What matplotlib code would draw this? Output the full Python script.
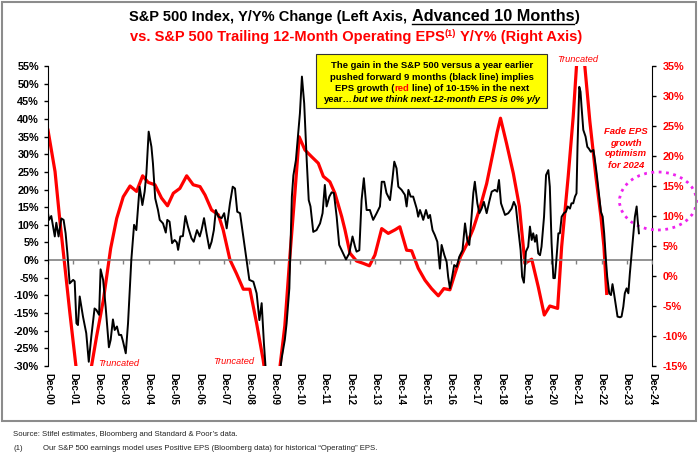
import matplotlib
matplotlib.use('Agg')
import matplotlib.pyplot as plt
from matplotlib.patches import Rectangle, Ellipse
from matplotlib.lines import Line2D
from matplotlib.transforms import IdentityTransform

plt.rcParams['font.family'] = ['Liberation Sans', 'DejaVu Sans']

W, H = 700, 458

# S&P 500 Y/Y % change, advanced 10 months (left axis)
black_x = [2000.92, 2000.96, 2001.05, 2001.19, 2001.25, 2001.34, 2001.45, 2001.54, 2001.62, 2001.69,
           2001.78, 2001.92, 2001.98, 2002.05, 2002.11, 2002.18, 2002.31, 2002.44, 2002.54, 2002.64,
           2002.77, 2002.84, 2002.95, 2003.01, 2003.11, 2003.21, 2003.34, 2003.41, 2003.50, 2003.57,
           2003.66, 2003.74, 2003.83, 2003.90, 2004.01, 2004.10, 2004.23, 2004.34, 2004.43, 2004.56,
           2004.67, 2004.76, 2004.83, 2004.92, 2005.03, 2005.09, 2005.18, 2005.29, 2005.36, 2005.49,
           2005.60, 2005.66, 2005.75, 2005.85, 2005.95, 2006.04, 2006.09, 2006.18, 2006.28, 2006.38,
           2006.48, 2006.62, 2006.71, 2006.84, 2006.95, 2007.02, 2007.12, 2007.22, 2007.33, 2007.42,
           2007.51, 2007.59, 2007.69, 2007.82, 2007.92, 2008.02, 2008.15, 2008.26, 2008.35, 2008.44,
           2008.55, 2008.68, 2008.81, 2008.92, 2009.08, 2009.21, 2009.32, 2009.41, 2009.50, 2009.61,
           2009.87, 2010.07, 2010.20, 2010.33, 2010.40, 2010.51, 2010.61, 2010.67, 2010.77, 2010.93,
           2011.01, 2011.10, 2011.20, 2011.28, 2011.35, 2011.46, 2011.59, 2011.73, 2011.83, 2011.92,
           2011.99, 2012.10, 2012.19, 2012.28, 2012.39, 2012.49, 2012.65, 2012.76, 2012.89, 2013.02,
           2013.12, 2013.18, 2013.29, 2013.38, 2013.47, 2013.58, 2013.71, 2013.84, 2013.98, 2014.11,
           2014.18, 2014.28, 2014.37, 2014.51, 2014.61, 2014.68, 2014.77, 2014.84, 2014.97, 2015.10,
           2015.17, 2015.24, 2015.33, 2015.43, 2015.57, 2015.63, 2015.70, 2015.77, 2015.83, 2015.94,
           2016.03, 2016.10, 2016.20, 2016.29, 2016.39, 2016.49, 2016.56, 2016.67, 2016.76, 2016.82,
           2016.89, 2016.98, 2017.06, 2017.16, 2017.26, 2017.39, 2017.49, 2017.58, 2017.66, 2017.75,
           2017.82, 2017.88, 2017.98, 2018.06, 2018.15, 2018.24, 2018.35, 2018.45, 2018.55, 2018.68,
           2018.77, 2018.84, 2018.92, 2019.08, 2019.21, 2019.34, 2019.43, 2019.51, 2019.61, 2019.70,
           2019.76, 2019.83, 2019.91, 2020.00, 2020.07, 2020.14, 2020.20, 2020.27, 2020.33, 2020.40,
           2020.47, 2020.53, 2020.63, 2020.71, 2020.80, 2020.86, 2020.93, 2021.00, 2021.06, 2021.10,
           2021.20, 2021.26, 2021.33, 2021.42, 2021.50, 2021.57, 2021.66, 2021.72, 2021.79, 2021.86,
           2021.92, 2021.96, 2022.03, 2022.08, 2022.12, 2022.19, 2022.28, 2022.35, 2022.41, 2022.49,
           2022.59, 2022.65, 2022.72, 2022.81, 2022.89, 2022.96, 2023.02, 2023.09, 2023.14, 2023.22,
           2023.29, 2023.35, 2023.41, 2023.49, 2023.55, 2023.65, 2023.71, 2023.78, 2023.84, 2023.91,
           2023.98, 2024.04, 2024.11, 2024.18, 2024.24, 2024.31, 2024.35, 2024.40]
black_y = [13.3, 11.4, 12.5, 6.7, 10.6, 6.7, 11.8, 11.4, 7.6, 2.0,
           -6.6, -5.6, -6.0, -17.9, -18.4, -10.3, -16.0, -20.7, -28.8, -21.7,
           -13.7, -14.1, -15.5, -2.6, -5.6, -13.2, -24.7, -22.6, -16.8, -19.8,
           -18.8, -21.2, -21.2, -23.0, -26.4, -17.9, 0.0, 10.0, 8.5, 20.8,
           15.6, 19.4, 24.6, 36.4, 32.1, 27.4, 17.5, 14.2, 11.4, 10.4,
           7.8, 11.4, 10.9, 4.8, 5.7, 5.0, 2.9, 6.7, 6.8, 12.5,
           9.5, 6.2, 5.2, 8.5, 6.7, 8.5, 11.9, 7.6, 3.3, 5.2,
           8.5, 14.2, 12.3, 11.9, 13.3, 9.0, 16.1, 20.8, 20.3, 13.7,
           13.3, 6.7, 0.0, -5.6, -6.1, -9.4, -17.0, -12.2, -23.6, -35.0,
           -42.0, -36.0, -28.0, -22.6, -18.0, -8.0, 18.0, 24.0, 28.3, 41.6,
           52.0, 44.4, 28.3, 17.0, 15.2, 8.0, 8.5, 10.4, 13.3, 21.3,
           15.2, 18.0, 19.2, 19.0, 12.3, 4.3, 1.9, 0.2, 1.9, 6.7,
           3.8, 2.4, 2.8, 17.0, 23.2, 14.2, 14.2, 11.4, 13.3, 15.2,
           22.2, 22.2, 19.0, 17.0, 23.2, 27.9, 26.0, 20.8, 19.9, 18.5,
           15.2, 19.9, 18.0, 18.0, 14.6, 12.3, 14.2, 12.8, 11.4, 14.2,
           11.9, 12.8, 8.5, 7.1, 5.2, -2.4, 4.3, 1.4, -0.5, -4.7,
           -8.0, -4.7, -1.4, -1.9, 0.9, 2.8, 10.4, 5.7, 4.3, 12.3,
           19.0, 22.2, 16.1, 13.3, 14.6, 16.5, 13.3, 16.5, 19.4, 19.9,
           19.4, 22.7, 16.1, 12.8, 13.3, 14.6, 16.5, 15.2, 8.5, 2.8,
           -4.7, -6.4, 2.4, 3.8, 9.5, 5.7, 7.6, 5.2, 7.1, 1.9,
           1.4, 3.8, 12.3, 24.1, 25.5, 20.8, 4.8, -5.1, -5.1, -1.8,
           7.6, 7.6, 12.3, 13.3, 13.7, 15.2, 14.6, 16.1, 16.1, 18.0,
           18.9, 32.1, 49.1, 47.7, 43.5, 36.9, 35.0, 32.1, 31.6, 30.7,
           31.2, 28.4, 24.6, 18.9, 13.7, 12.3, 7.6, 0.0, -4.7, -9.4,
           -9.9, -6.8, -9.4, -13.2, -16.0, -16.2, -16.0, -13.2, -9.4, -8.0,
           -9.4, -3.8, 1.9, 7.6, 12.3, 15.2, 11.4, 7.6]

# trailing 12-month operating EPS Y/Y % (right axis)
red_x = [2000.92, 2001.20, 2001.39, 2001.59, 2001.79, 2002.03, 2002.26, 2002.45, 2002.65, 2002.85,
         2003.12, 2003.41, 2003.65, 2003.91, 2004.18, 2004.44, 2004.68, 2004.90, 2005.17, 2005.43,
         2005.67, 2005.90, 2006.16, 2006.43, 2006.69, 2006.96, 2007.16, 2007.42, 2007.69, 2007.88,
         2008.15, 2008.41, 2008.68, 2008.94, 2009.21, 2009.47, 2009.74, 2009.94, 2010.14, 2010.33,
         2010.53, 2010.73, 2010.90, 2011.13, 2011.39, 2011.66, 2011.86, 2012.12, 2012.32, 2012.59,
         2012.72, 2012.92, 2013.18, 2013.45, 2013.69, 2013.91, 2014.18, 2014.44, 2014.71, 2014.90,
         2015.17, 2015.37, 2015.63, 2015.90, 2016.16, 2016.43, 2016.65, 2016.89, 2017.09, 2017.31,
         2017.55, 2017.82, 2018.08, 2018.35, 2018.61, 2018.77, 2018.90, 2019.14, 2019.41, 2019.65,
         2019.87, 2020.14, 2020.40, 2020.64, 2020.86, 2021.17, 2021.33, 2021.59, 2021.79, 2021.92,
         2022.06, 2022.19, 2022.25, 2022.45, 2022.69, 2022.89, 2023.01, 2023.12]
red_y = [24.3, 17.4, 9.3, 1.6, -6.2, -15.0, -25.0, -28.0, -15.0, -10.1,
         -4.0, 4.6, 9.6, 13.2, 15.0, 14.1, 16.7, 15.6, 15.2, 13.0,
         11.7, 13.8, 14.6, 16.7, 15.2, 14.9, 13.5, 11.0, 10.2, 7.7,
         2.7, 0.4, -2.2, -2.2, -7.9, -14.0, -22.0, -24.0, -15.0, -8.3,
         3.2, 13.8, 23.2, 21.0, 19.9, 18.8, 16.6, 15.7, 13.8, 9.9,
         7.7, 3.8, 2.5, 2.1, 1.7, 3.5, 7.9, 7.1, 7.7, 8.2,
         4.3, 4.2, 1.3, -0.7, -2.1, -3.3, -2.1, -2.3, 0.4, 3.2,
         5.2, 7.9, 11.3, 15.4, 20.7, 24.0, 26.3, 22.1, 17.1, 11.6,
         2.1, 2.8, -1.8, -6.5, -5.0, -5.4, 4.9, 16.6, 26.6, 35.0,
         40.0, 38.0, 35.0, 25.8, 16.6, 9.9, 4.9, -2.9]

year_ticks = [2000.92 + k for k in range(25)]
year_labels = ['Dec-%02d' % k for k in range(25)]
left_ticks = list(range(-30, 56, 5))
right_ticks = list(range(-15, 36, 5))

fig = plt.figure(figsize=(7, 4.58), dpi=100)
ax = fig.add_axes([48 / W, 1 - 366 / H, 604 / W, 300 / H])
ax2 = ax.twinx()

ax2.plot(red_x, red_y, color='#ff0000', lw=2.3, solid_joinstyle='round')
ax.axhline(0, color='#808080', lw=1.2, zorder=1)
ax.plot(year_ticks, [0] * len(year_ticks), ls='none', marker=3, ms=3, color='#808080', zorder=1)
ax.plot(black_x, black_y, color='black', lw=1.4, zorder=3)

ax.set_zorder(ax2.get_zorder() + 1)
ax.patch.set_visible(False)

ax.set_xlim(year_ticks[0], year_ticks[-1])
ax.set_ylim(-30, 55)
ax2.set_ylim(-15, 35)

ax.set_yticks(left_ticks, [f'{v}%' for v in left_ticks], fontsize=7.8, fontweight='bold')
ax2.set_yticks(right_ticks, [f'{v}%' for v in right_ticks], fontsize=7.8, fontweight='bold', color='#ff0000')
ax.set_xticks(year_ticks, year_labels, rotation=270, fontsize=7, fontweight='bold')
ax.tick_params(axis='x', length=0, pad=5)
ax.tick_params(axis='y', direction='out', length=3, width=1, pad=3.5)
ax2.tick_params(axis='y', direction='out', length=3, width=1, pad=4.5)

for a in (ax, ax2):
    a.spines['top'].set_visible(False)
    a.spines['bottom'].set_visible(False)
ax.spines['right'].set_visible(False)
ax2.spines['left'].set_visible(False)


def px(x, y):
    return (x, H - y)


def rich_line(y, cx, parts):
    # parts: (text, props, space_before, rise)
    arts = []
    for s, kw, sp, rise in parts:
        t = fig.text(0, 0, s, transform=IdentityTransform(), ha='left', va='baseline', **kw)
        arts.append((t, sp, rise))
    r = fig.canvas.get_renderer()
    widths = [t.get_window_extent(r).width for t, _, _ in arts]
    gaps = [t.get_fontsize() * 100 / 72 * 0.278 if sp else 0 for t, sp, _ in arts]
    x = cx - (sum(widths) + sum(gaps)) / 2
    for (t, sp, rise), w, g in zip(arts, widths, gaps):
        x += g
        t.set_position((x, H - y + rise))
        x += w
    return [t for t, _, _ in arts]


# title
B = dict(fontweight='bold', fontsize=10.5, color='black')
R = dict(fontweight='bold', fontsize=10.5, color='#ff0000')
t1 = rich_line(21, 354, [("S&P 500 Index, Y/Y% Change (Left Axis,", B, False, 0),
                         ("Advanced 10 Months", dict(B, fontsize=11.7), True, 0),
                         (")", B, False, 0)])
rich_line(40.5, 356, [("vs. S&P 500 Trailing 12-Month Operating EPS", R, False, 0),
                      ("(1)", dict(R, fontsize=6.5), False, 5),
                      ("Y/Y% (Right Axis)", R, True, 0)])
r = fig.canvas.get_renderer()
bb = t1[1].get_window_extent(r)
fig.add_artist(Line2D([bb.x0, bb.x1], [H - 23.5, H - 23.5], transform=IdentityTransform(),
                      color='black', lw=1))

# yellow call-out box
fig.add_artist(Rectangle((316, H - 108), 231, 54, transform=IdentityTransform(),
                         facecolor='#ffff00', edgecolor='#333333', lw=0.8))
YB = dict(fontweight='bold', fontsize=6.8, color='black')
YI = dict(YB, fontstyle='italic')
cx = 432
rich_line(68.5, cx, [("The gain in the S&P 500 versus a year earlier", YB, False, 0)])
rich_line(79.6, cx, [("pushed forward 9 months (black line) implies", YB, False, 0)])
rich_line(90.7, cx, [("EPS growth (", YB, False, 0), ("red", dict(YB, color='#ff0000'), False, 0),
                     ("line) of 10-15% in the next", YB, True, 0)])
rich_line(101.8, cx, [("year\u2026", YB, False, 0), ("but we think next-12-month EPS is 0% y/y", YI, False, 0)])

# truncated notes
TR = dict(fontsize=6.7, fontstyle='italic', color='#ff0000', ha='center', va='center',
          transform=IdentityTransform())
for x, y in [(119, 363), (234, 362), (578, 60)]:
    fig.text(*px(x, y), "Truncated", **TR)

# fade note and dotted ellipse
for i, s in enumerate(["Fade EPS", "growth", "optimism", "for 2024"]):
    fig.text(*px(626, 132 + 11 * i), s, fontsize=6.8, fontweight='bold', fontstyle='italic',
             color='#ff0000', ha='center', va='center', transform=IdentityTransform())
fig.add_artist(Ellipse(px(658, 201), 77, 58, transform=IdentityTransform(), fill=False,
                       edgecolor='#ee22ee', ls=':', lw=2))

# frame and footnotes
fig.add_artist(Rectangle((2, H - 421), 694, 419, transform=IdentityTransform(), fill=False,
                         edgecolor='#8c8c8c', lw=1.5))
FN = dict(fontsize=5.6, color='#222222', ha='left', va='center', transform=IdentityTransform())
fig.text(*px(13, 435), "Source: Stifel estimates, Bloomberg and Standard & Poor\u2019s data.", **FN)
fig.text(*px(13, 448), "(1)", **FN)
fig.text(*px(43, 448), "Our S&P 500 earnings model uses Positive EPS (Bloomberg data) for historical \u201cOperating\u201d EPS.", **FN)

fig.savefig('out.png', dpi=100)
